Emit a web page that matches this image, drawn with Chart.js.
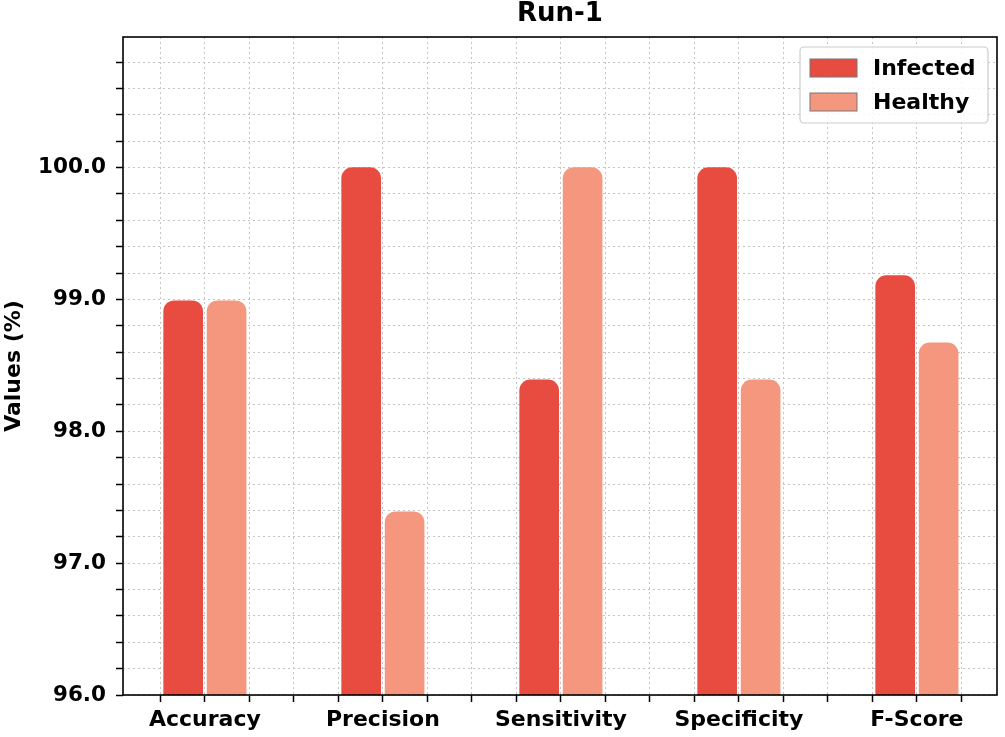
<!DOCTYPE html>
<html>
<head>
<meta charset="utf-8">
<script src="https://cdn.jsdelivr.net/npm/chart.js@4.4.1/dist/chart.umd.min.js"></script>
<style>
    html, body { margin: 0; padding: 0; background: #fff; }
    #wrap { width: 1005px; height: 737px; position: relative; }
</style>
</head>
<body>
<div id="wrap"><canvas id="chart"></canvas></div>
<script>
const categories = ["Accuracy", "Precision", "Sensitivity", "Specificity", "F-Score"];
const infected = [98.99, 100.0, 98.39, 100.0, 99.18];
const healthy = [98.99, 97.39, 100.0, 98.39, 98.67];
const seriesNames = ["Infected", "Healthy"];
const seriesColors = ["#E84B3F", "#F4977E"];

const FONT = "'DejaVu Sans', sans-serif";
const offset = 0.122;

const isWhole = v => Math.abs(v - Math.round(v)) < 1e-6;

const toPoints = (values, shift) => values.map((v, i) => ({ x: i + shift, y: v }));

// frame, title and legend drawn by hand, like the matplotlib original
const decorations = {
    id: "decorations",
    afterDraw(chart) {
        const { ctx, chartArea: a } = chart;
        ctx.save();
        ctx.strokeStyle = "#000";
        ctx.lineWidth = 1.6;
        ctx.strokeRect(a.left, a.top, a.right - a.left, a.bottom - a.top);

        ctx.fillStyle = "#000";
        ctx.font = "bold 26px " + FONT;
        ctx.textAlign = "center";
        ctx.textBaseline = "middle";
        ctx.fillText("Run-1", (a.left + a.right) / 2, 14);

        // legend box
        const bx = 800, by = 47, bw = 188, bh = 76;
        ctx.fillStyle = "rgba(255,255,255,0.85)";
        ctx.strokeStyle = "#cccccc";
        ctx.lineWidth = 1.2;
        ctx.beginPath();
        ctx.roundRect(bx, by, bw, bh, 4);
        ctx.fill();
        ctx.stroke();

        ctx.font = "bold 22px " + FONT;
        ctx.textAlign = "left";
        seriesNames.forEach((name, i) => {
            const y = 68 + i * 34;
            ctx.fillStyle = seriesColors[i];
            ctx.fillRect(810, y - 9, 47, 18);
            ctx.strokeStyle = "#777";
            ctx.lineWidth = 1;
            ctx.strokeRect(810, y - 9, 47, 18);
            ctx.fillStyle = "#000";
            ctx.fillText(name, 873, y + 1);
        });
        ctx.restore();
    }
};

const gridDash = [2, 3];

new Chart(document.getElementById("chart"), {
    type: "bar",
    data: {
        datasets: [
            {
                label: seriesNames[0],
                data: toPoints(infected, -offset),
                backgroundColor: seriesColors[0],
                grouped: false,
                barThickness: 39,
                borderRadius: { topLeft: 11, topRight: 11 },
                borderSkipped: "start"
            },
            {
                label: seriesNames[1],
                data: toPoints(healthy, offset),
                backgroundColor: seriesColors[1],
                grouped: false,
                barThickness: 39,
                borderRadius: { topLeft: 11, topRight: 11 },
                borderSkipped: "start"
            }
        ]
    },
    options: {
        responsive: true,
        maintainAspectRatio: false,
        animation: false,
        layout: { padding: { top: 37, right: 8, left: 0, bottom: 0 } },
        plugins: {
            legend: { display: false },
            title: { display: false },
            tooltip: { enabled: false }
        },
        scales: {
            x: {
                type: "linear",
                offset: false,
                min: -0.46,
                max: 4.45,
                border: { display: false, dash: gridDash },
                grid: {
                    offset: false,
                    color: "#c4c4c4",
                    lineWidth: 1,
                    tickColor: "#000",
                    tickWidth: 1.5,
                    tickLength: 7,
                    tickBorderDash: []
                },
                ticks: {
                    stepSize: 0.25,
                    includeBounds: false,
                    autoSkip: false,
                    maxRotation: 0,
                    padding: 5,
                    color: "#000",
                    font: { family: FONT, size: 22, weight: "bold" },
                    callback: v => isWhole(v) ? categories[Math.round(v)] : ""
                },
                afterFit: s => { s.height = 42; }
            },
            y: {
                min: 96,
                max: 100.99,
                border: { display: false, dash: gridDash },
                grid: {
                    color: "#c4c4c4",
                    lineWidth: 1,
                    tickColor: "#000",
                    tickWidth: 1.5,
                    tickLength: 7,
                    tickBorderDash: []
                },
                ticks: {
                    stepSize: 0.2,
                    includeBounds: false,
                    autoSkip: false,
                    padding: 10,
                    color: "#000",
                    font: { family: FONT, size: 21.5, weight: "bold" },
                    callback: v => isWhole(v) ? Math.round(v).toFixed(1) : ""
                },
                title: {
                    display: true,
                    text: "Values (%)",
                    color: "#000",
                    padding: { top: 1, bottom: 0 },
                    font: { family: FONT, size: 22, weight: "bold" }
                },
                afterFit: s => { s.width = 123; }
            }
        }
    },
    plugins: [decorations]
});
</script>
</body>
</html>
